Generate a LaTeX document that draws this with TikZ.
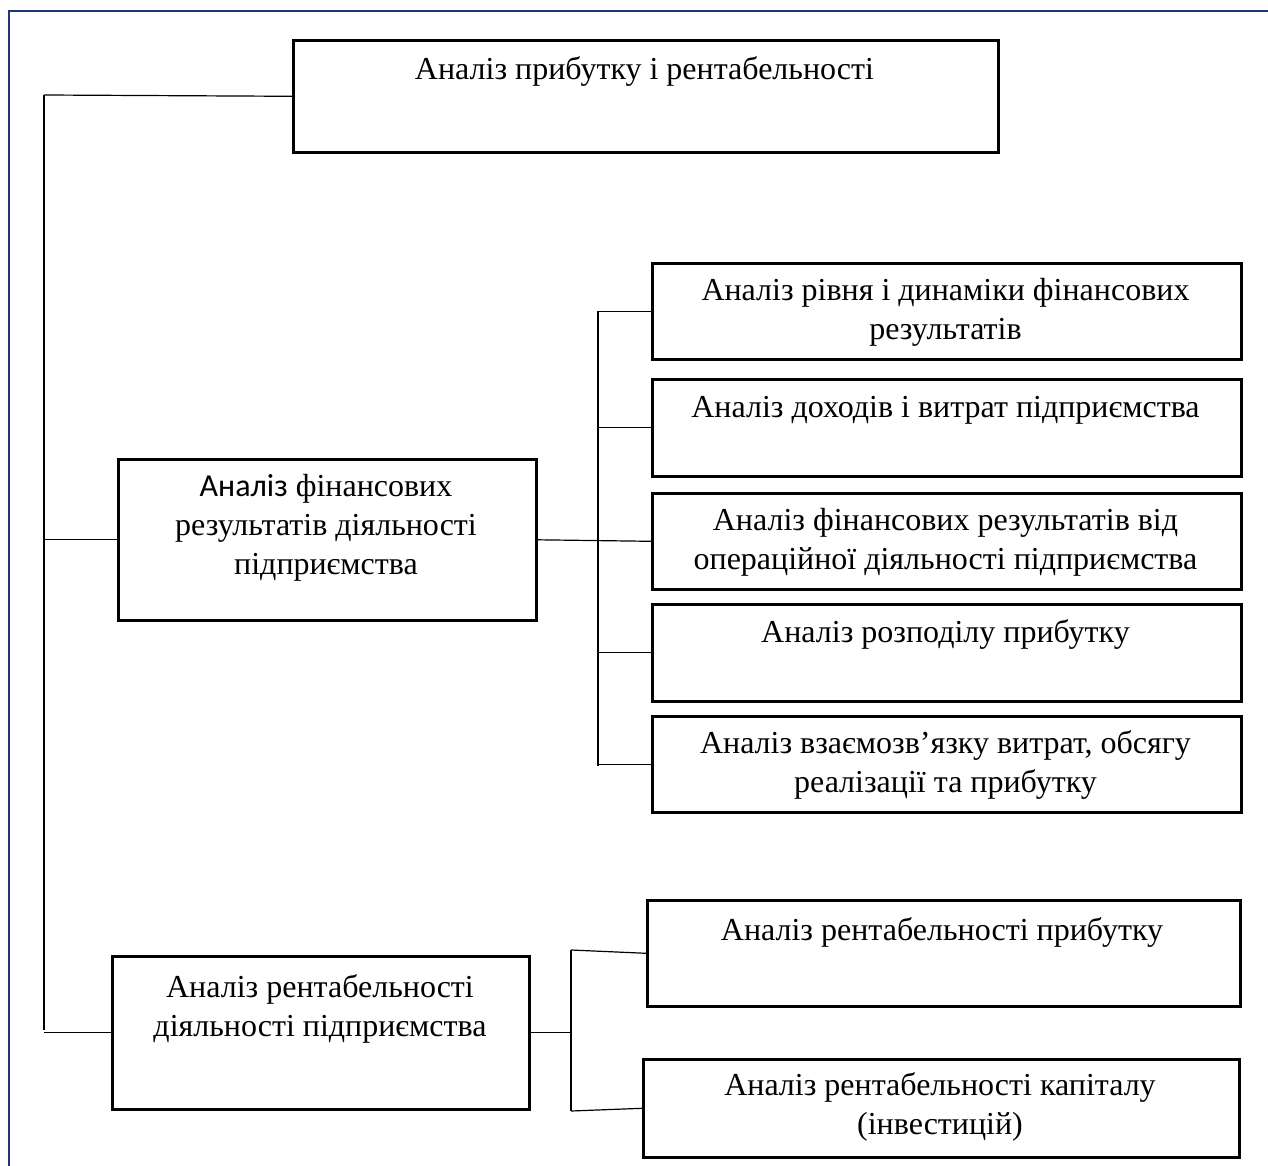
\documentclass[tikz,border=0pt]{standalone}
\usepackage{fontspec}
\setmainfont{Liberation Serif}
\newfontfamily\calibrifont{Carlito}
\usetikzlibrary{positioning,calc}

\begin{document}
\begin{tikzpicture}[x=0.5pt,y=-0.5pt,
	box/.style={draw, line width=1.3pt, inner sep=0pt, anchor=north west},
	txt/.style={align=center, inner sep=0pt, font=\fontsize{16}{19.5}\selectfont},
	link/.style={line width=0.6pt}]

	\definecolor{framecolor}{rgb}{0.12,0.22,0.46}
	\useasboundingbox (0,0) rectangle (1268,1166);
	\draw[framecolor, line width=1.4pt] (9,1166) -- (9,11) -- (1268,11);

	% boxes
	\node(top) [box, minimum width=352.5pt, minimum height=56pt] at (292,39) {};
	\node(fin) [box, minimum width=209pt, minimum height=80.5pt] at (117,458) {};
	\node(b1) [box, minimum width=294.5pt, minimum height=48pt] at (651,262) {};
	\node(b2) [box, minimum width=294.5pt, minimum height=48.5pt] at (651,378) {};
	\node(b3) [box, minimum width=294.5pt, minimum height=48pt] at (651,492) {};
	\node(b4) [box, minimum width=294.5pt, minimum height=48.5pt] at (651,603) {};
	\node(b5) [box, minimum width=294.5pt, minimum height=48pt] at (651,715) {};
	\node(ren) [box, minimum width=208.5pt, minimum height=76.5pt] at (111,955) {};
	\node(r1) [box, minimum width=296.5pt, minimum height=53pt] at (646,899) {};
	\node(r2) [box, minimum width=298pt, minimum height=49pt] at (642,1058) {};

	% texts
	\node(ttop) [txt] at (644.5,72) {Аналіз прибутку і рентабельності};
	\node(tfin) [txt] at (326,528) {{\calibrifont Аналіз} фінансових\\результатів діяльності\\підприємства};
	\node(tb1) [txt] at (945.5,312) {Аналіз рівня і динаміки фінансових\\результатів};
	\node(tb2) [txt] at (945.5,410) {Аналіз доходів і витрат підприємства};
	\node(tb3) [txt] at (945.5,542) {Аналіз фінансових результатів від\\операційної діяльності підприємства};
	\node(tb4) [txt] at (945.5,634) {Аналіз розподілу прибутку};
	\node(tb5) [txt] at (945.5,765) {Аналіз взаємозв’язку витрат, обсягу\\реалізації та прибутку};
	\node(tren) [txt] at (320,1009) {Аналіз рентабельності\\діяльності підприємства};
	\node(tr1) [txt] at (942,932) {Аналіз рентабельності прибутку};
	\node(tr2) [txt] at (940,1107) {Аналіз рентабельності капіталу\\(інвестицій)};

	% bus lines
	\coordinate (trunk) at (44,95);
	\coordinate (trunkend) at (44,1030);
	\coordinate (busA) at (598,311);
	\coordinate (busAend) at (598,766);
	\coordinate (busB) at (571,950);
	\coordinate (busBend) at (571,1111);

	\draw[link] (trunk) -- (trunkend);
	\draw[link] (trunk) -- (top.west);
	\draw[link] (fin.west -| trunk) -- (fin.west);
	\draw[link] (ren.west -| trunk) -- (ren.west);

	\draw[link] (busA) -- (busAend);
	\draw[link] (fin.east) -- (b3.west);
	\draw[link] (b1.west -| busA) -- (b1.west);
	\draw[link] (b2.west -| busA) -- (b2.west);
	\draw[link] (b4.west -| busA) -- (b4.west);
	\draw[link] (b5.west -| busA) -- (b5.west);

	\draw[link] (busB) -- (busBend);
	\draw[link] (ren.east) -- (ren.east -| busB);
	\draw[link] (busB) -- (r1.west);
	\draw[link] (busBend) -- (r2.west);

\end{tikzpicture}
\end{document}
